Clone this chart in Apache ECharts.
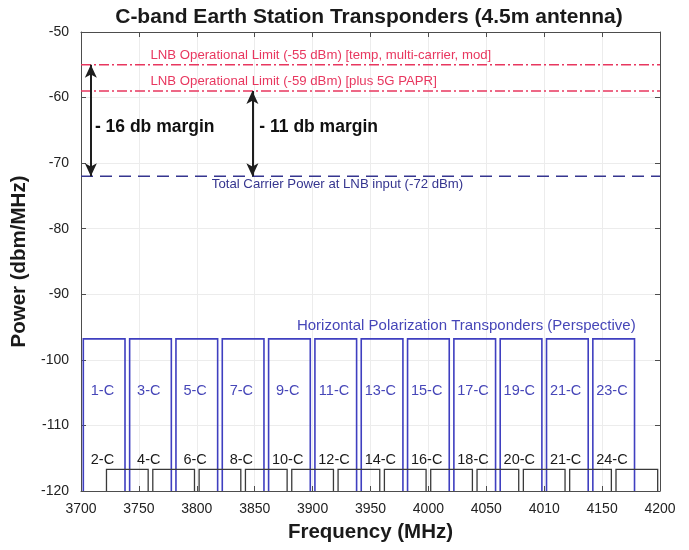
<!DOCTYPE html>
<html>
<head>
<meta charset="utf-8">
<script src="https://cdn.jsdelivr.net/npm/echarts@6/dist/echarts.min.js"></script>
<style>
  html, body { margin: 0; padding: 0; background: #ffffff; }
  #chart { width: 689px; height: 550px; }
</style>
</head>
<body>
<div id="chart"></div>
<script>
// ---- data ----
const freqTickLabels = ['3700', '3750', '3800', '3850', '3900', '3950', '4000', '4050', '4010', '4150', '4200'];

// Horizontal polarization transponders (odd numbers)
const hLabels = ['1-C', '3-C', '5-C', '7-C', '9-C', '11-C', '13-C', '15-C', '17-C', '19-C', '21-C', '23-C'];
const hStart  = [3702, 3742, 3782, 3822, 3862, 3902, 3942, 3982, 4022, 4062, 4102, 4142];
const hEnd    = [3738, 3778, 3818, 3858, 3898, 3938, 3978, 4018, 4058, 4098, 4138, 4178];
const hPower  = [-96.8, -96.8, -96.8, -96.8, -96.8, -96.8, -96.8, -96.8, -96.8, -96.8, -96.8, -96.8];

// Vertical polarization transponders (even numbers)
const vLabels = ['2-C', '4-C', '6-C', '8-C', '10-C', '12-C', '14-C', '16-C', '18-C', '20-C', '21-C', '24-C'];
const vStart  = [3722, 3762, 3802, 3842, 3882, 3922, 3962, 4002, 4042, 4082, 4122, 4162];
const vEnd    = [3758, 3798, 3838, 3878, 3918, 3958, 3998, 4038, 4078, 4118, 4158, 4198];
const vPower  = [-116.7, -116.7, -116.7, -116.7, -116.7, -116.7, -116.7, -116.7, -116.7, -116.7, -116.7, -116.7];

// LNB limits and carrier power (dBm)
const limitLevels = [-55, -59];
const limitLabels = ['LNB Operational Limit (-55 dBm) [temp, multi-carrier, mod]',
                     'LNB Operational Limit (-59 dBm) [plus 5G PAPR]'];
const carrierLevel = -72;
const carrierLabel = 'Total Carrier Power at LNB input (-72 dBm)';

// Margin arrows
const arrowFreq   = [3708.5, 3848];
const arrowTop    = [-55, -59];
const arrowLabels = ['- 16 db margin', '- 11 db margin'];

const FONT = '"Liberation Sans", Arial, Helvetica, sans-serif';
const RED = '#e8375f';
const BLUE = '#3f3fc0';
const NAVY = '#35358f';
const FMIN = 3700, FMAX = 4200, PMIN = -120, PMAX = -50;

// Outlined transponder boxes with their channel names; labelShift moves the name along frequency
function boxSeries(name, starts, ends, levels, labels, color, textColor, labelLevel, labelShift, lw) {
  return {
    name: name,
    type: 'custom',
    silent: true,
    data: starts.map((s, i) => [s, ends[i], levels[i], i]),
    encode: { x: [0, 1], y: 2 },
    renderItem: function (params, api) {
      const s = api.value(0), e = api.value(1), top = api.value(2), i = api.value(3);
      const pts = [api.coord([s, PMIN]), api.coord([s, top]), api.coord([e, top]), api.coord([e, PMIN])];
      const c = api.coord([(s + e) / 2 + labelShift, labelLevel]);
      return {
        type: 'group',
        children: [
          { type: 'polyline', shape: { points: pts },
            style: { stroke: color, lineWidth: lw, fill: null } },
          { type: 'text', x: c[0], y: c[1],
            style: { text: labels[i], fill: textColor, font: '14.5px ' + FONT,
                     align: 'center', verticalAlign: 'middle' } }
        ]
      };
    }
  };
}

function hLine(level, color, type, width, z) {
  return {
    type: 'line', silent: true, showSymbol: false, z: z || 3,
    data: [[FMIN, level], [FMAX, level]],
    lineStyle: { color: color, type: type, width: width }
  };
}

// Free text anchored in data coordinates
function textSeries(items) {
  return {
    type: 'custom', silent: true, z: 6,
    data: items.map((t, i) => [t.x, t.y, i]),
    encode: { x: 0, y: 1 },
    renderItem: function (params, api) {
      const t = items[api.value(2)];
      const p = api.coord([api.value(0), api.value(1)]);
      return { type: 'text', x: p[0], y: p[1],
        style: { text: t.text, fill: t.color, font: t.font, align: t.align || 'left', verticalAlign: 'middle' } };
    }
  };
}

const chart = echarts.init(document.getElementById('chart'), null, { renderer: 'canvas' });

const axisCommon = {
  axisLine: { show: true, onZero: false, lineStyle: { color: '#4d4d4d', width: 1 } },
  axisTick: { show: true, inside: true, length: 5, lineStyle: { color: '#4d4d4d' } }
};

const option = {
  backgroundColor: '#ffffff',
  animation: false,
  textStyle: { fontFamily: FONT },
  graphic: [{
    type: 'text', x: 369, y: 7,
    style: { text: 'C-band Earth Station Transponders (4.5m antenna)', fill: '#1a1a1a',
             font: 'bold 21px ' + FONT, align: 'center', verticalAlign: 'top' }
  }],
  grid: { left: 81, right: 29, top: 32, bottom: 59, containLabel: false },
  xAxis: [
    Object.assign({
      type: 'value', min: FMIN, max: FMAX, interval: 50, position: 'bottom',
      name: 'Frequency (MHz)', nameLocation: 'middle', nameGap: 31,
      nameTextStyle: { fontFamily: FONT, fontWeight: 'bold', fontSize: 20.5, color: '#1a1a1a' },
      axisLabel: { color: '#222', fontSize: 14, fontFamily: FONT, margin: 11,
                   formatter: (v) => freqTickLabels[Math.round((v - FMIN) / 50)] },
      splitLine: { show: true, lineStyle: { color: '#ececec', width: 1 } }
    }, axisCommon),
    Object.assign({
      type: 'value', min: FMIN, max: FMAX, interval: 50, position: 'top',
      axisLabel: { show: false }, splitLine: { show: false }
    }, axisCommon)
  ],
  yAxis: [
    Object.assign({
      type: 'value', min: PMIN, max: PMAX, interval: 10, position: 'left',
      name: 'Power (dbm/MHz)', nameLocation: 'middle', nameGap: 44,
      nameTextStyle: { fontFamily: FONT, fontWeight: 'bold', fontSize: 20.5, color: '#1a1a1a' },
      axisLabel: { color: '#222', fontSize: 14, fontFamily: FONT, margin: 12 },
      splitLine: { show: true, lineStyle: { color: '#ececec', width: 1 } }
    }, axisCommon),
    Object.assign({
      type: 'value', min: PMIN, max: PMAX, interval: 10, position: 'right',
      axisLabel: { show: false }, splitLine: { show: false }
    }, axisCommon)
  ],
  series: [
    boxSeries('Horizontal', hStart, hEnd, hPower, hLabels, BLUE, '#4646b8', -104.7, -1.5, 1.6),
    boxSeries('Vertical', vStart, vEnd, vPower, vLabels, '#3a3a3a', '#1a1a1a', -115.2, -21.5, 1.3),
    hLine(limitLevels[0], RED, [10, 3, 2, 3], 1.5),
    hLine(limitLevels[1], RED, [10, 3, 2, 3], 1.5),
    hLine(carrierLevel, NAVY, [12, 7], 1.5),
    {
      type: 'line', silent: true, data: [], z: 5,
      markLine: {
        silent: true, symbol: ['arrow', 'arrow'], symbolSize: [9, 13],
        label: { show: false },
        lineStyle: { color: '#1e1e1e', width: 2, type: 'solid' },
        data: arrowFreq.map((f, i) => [{ coord: [f, arrowTop[i]] }, { coord: [f, carrierLevel] }])
      }
    },
    textSeries([
      { x: 3760, y: -53.5, text: limitLabels[0], color: RED, font: '13.2px ' + FONT },
      { x: 3760, y: -57.6, text: limitLabels[1], color: RED, font: '13.2px ' + FONT },
      { x: 3813, y: -73.2, text: carrierLabel, color: NAVY, font: '13.2px ' + FONT },
      { x: 3712, y: -64.5, text: arrowLabels[0], color: '#111', font: 'bold 17.5px ' + FONT },
      { x: 3854, y: -64.5, text: arrowLabels[1], color: '#111', font: 'bold 17.5px ' + FONT },
      { x: 4179, y: -94.8, text: 'Horizontal Polarization Transponders (Perspective)', color: '#4646b8',
        font: '15px ' + FONT, align: 'right' }
    ])
  ]
};

chart.setOption(option);
</script>
</body>
</html>
